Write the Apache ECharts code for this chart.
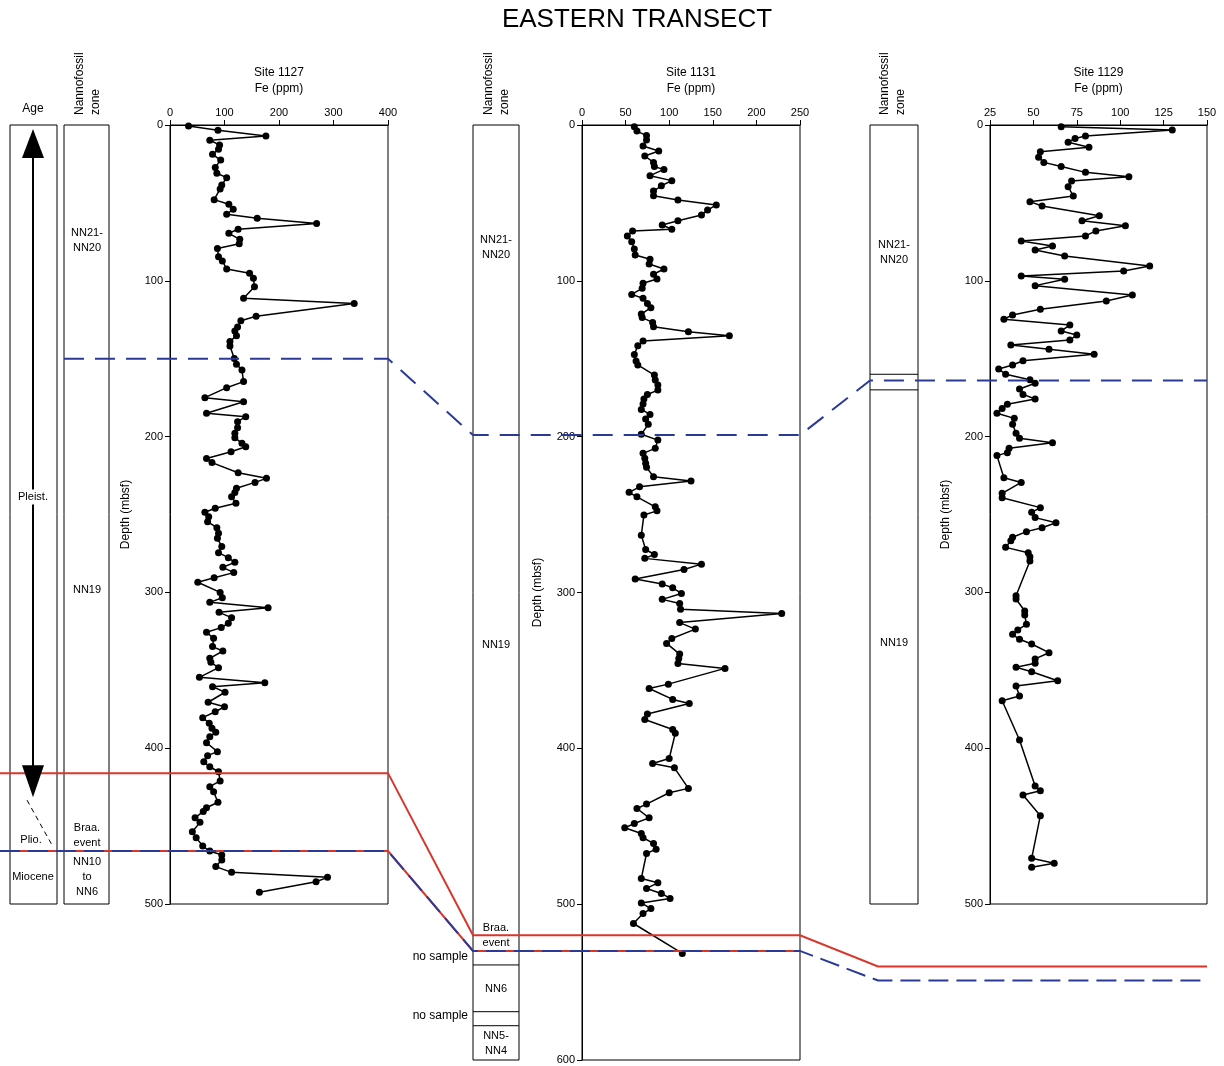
<!DOCTYPE html>
<html><head><meta charset="utf-8">
<script src="https://cdn.jsdelivr.net/npm/echarts@6/dist/echarts.min.js"></script>
<style>html,body{margin:0;padding:0;background:#fff}#c{width:1224px;height:1066px}</style>
</head><body><div id="c"></div>
<script>
// ---------- DATA ----------
const fe1127 = [34,88,176,73,91,89,78,93,83,86,104,95,92,81,108,116,104,160,269,125,108,128,127,87,89,96,104,146,153,155,135,338,158,130,124,119,122,110,110,118,122,132,135,104,64,135,67,139,124,124,119,119,132,139,112,67,77,125,177,156,122,119,113,121,83,64,71,69,86,89,87,95,89,107,119,97,117,81,51,92,96,73,180,90,113,107,94,67,80,78,97,73,75,89,54,174,78,101,70,100,83,60,72,77,84,73,67,87,69,62,73,89,92,73,80,88,67,61,46,55,41,48,60,73,95,95,84,113,289,268,164];
const depth1127 = [0.6,3.4,7.1,9.8,12.8,15.6,18.8,22.5,27.2,31,33.8,38.5,41,47.9,50.9,54.1,57.3,59.9,63.3,66.9,69.5,73.4,76.2,79.2,84.5,87.3,92.4,95.2,98.4,103.8,111.2,114.5,122.8,125.6,129.7,132.2,135.2,139,141.8,149.8,153.6,157.3,164.7,168.6,175,177.6,185,187.2,190.4,194.3,197.9,200.7,204.3,206.5,209.7,214,216.7,223.2,226.8,229.4,233.2,235.8,238.6,242.8,246,248.6,251.5,254.6,258.5,262,265.3,270.6,274.5,277.7,280.7,283.9,287.3,290.6,293.5,300,303.4,306.4,309.8,312.8,316.2,319.8,322.6,325.6,329.5,334.8,337.6,342.3,344.9,348.3,354.5,358,360.5,364.1,370.5,373.4,376.6,380.4,384,387.2,389.8,392.6,396.5,402.2,404.8,408.7,411.9,415.1,421,424.7,427.9,434.7,438.2,440.7,444.6,447.6,453.6,457.4,462.8,466,468.6,471.8,476,479.7,482.9,485.7,492.5];

const fe1131 = [60,63,74,74,70,88,72,82,83,94,78,103,91,82,82,110,154,144,137,110,92,103,58,52,57,60,61,78,77,94,82,86,70,69,57,70,75,79,68,69,81,82,122,169,70,64,60,62,64,83,84,87,87,75,71,70,68,78,73,76,68,87,84,70,72,73,74,82,125,66,54,63,84,86,71,68,73,83,72,137,117,61,92,104,114,92,112,113,229,112,130,103,97,112,111,110,164,99,77,104,123,75,72,104,107,100,81,106,122,100,74,63,77,60,49,68,70,82,85,74,68,87,74,91,101,68,79,70,59,115];
const depth1131 = [1.1,3.9,6.8,9.6,13.5,16.7,19.9,24,26.7,28.5,32.5,35.7,39,42.4,45.4,48.1,51.3,54.6,57.8,61.4,64.2,66.9,68,71.2,74.9,79.6,83.4,86.2,89.2,92.4,95.8,98.8,101.6,104.8,108.7,111.2,114.5,117.2,121.3,123.6,126.7,129.4,132.7,135.2,138.6,141.6,147.2,151.5,154,160.5,163.7,166.9,170.1,172.9,175.9,179.1,182.5,185.7,188.7,192.1,198.5,202.2,207.5,210.7,213.9,217.1,219.7,225.7,228.5,232.2,235.7,238.6,245,247.6,250.3,263.2,272.4,275.6,278.1,281.8,285.2,291.4,294.6,297,300.6,304.4,307,310.7,313.4,319.3,323.5,329.5,332.7,339.5,342.3,345.5,348.7,358.8,361.6,368.6,371.2,378,381.5,387.9,390.4,406.5,409.7,412.5,425.7,428.5,435.8,438.6,444.6,448.2,451,454.6,457.4,461,464.7,467.5,483.5,486.3,489.9,493.1,496.3,499.2,502.8,506,512.4,531.6];

const fe1129 = [66,130,80,74,70,82,54,53,56,66,80,105,72,70,73,48,55,88,78,103,86,80,43,61,51,68,117,102,43,68,51,107,92,54,38,33,71,66,75,71,37,59,85,44,38,30,34,48,51,42,44,51,35,32,29,39,38,40,42,61,36,35,29,33,43,32,32,54,49,51,63,55,46,38,37,34,47,48,48,40,40,45,45,46,41,38,42,49,59,51,51,40,49,64,40,42,32,42,51,54,44,54,49,62,49];
const depth1129 = [1.1,3.2,7.1,8.6,11.1,14.3,17.1,20.7,24,26.7,30.4,33.2,35.9,39.6,45.6,49.2,52,58.2,61.4,64.6,68,71.2,74.5,77.7,80.2,84.1,90.5,93.7,96.9,99,103.1,109.1,113,118.3,121.9,124.7,128.4,132.2,134.8,138,141.2,144,147.2,151.3,154,156.6,160,163.5,165.8,169.4,172.9,175.9,179.3,181.9,185,188.3,192.1,197.9,201.1,203.9,207.5,210.3,212.2,226.4,229.4,236.4,239.2,245.6,248.6,252,255.3,258.5,261,264.6,266.8,271.1,274.5,277.1,279.8,302.1,304.2,311.9,314.5,320.5,324.1,326.9,330.1,333.1,338.7,342.7,345.5,348.1,350.9,356.7,360.1,366.5,369.5,394.7,424.3,427.3,430,443.3,470.7,473.9,476.4];

// Boundary depths (mbsf)
const site1127Bounds = {nn20: 150, pleistPlio: 416, plioMio: 466};
const site1131Bounds = {nn20: 199, braa: 520, base: 530, noSample1: 539, nn6Base: 569, noSample2: 578};
const site1129Bounds = {zoneTop: 160, nn20: 164, zoneBot: 170, braa: 540, base: 549};

const siteNames = ['Site 1127', 'Site 1131', 'Site 1129'];

// ---------- CHART ----------
const FONT = 'Liberation Sans, Arial, Helvetica, sans-serif';
const chart = echarts.init(document.getElementById('c'));
const pair = (xs, ys) => xs.map((v, i) => [v, ys[i]]);

function xCfg(gi, min, max, interval, name) {
  return {type:'value', gridIndex:gi, position:'top', min, max, interval,
    name, nameLocation:'middle', nameGap:28,
    nameTextStyle:{fontSize:12, color:'#000', fontFamily:FONT, lineHeight:16},
    axisLine:{show:true, onZero:false, lineStyle:{color:'#000', width:1}},
    axisTick:{show:true, length:5, lineStyle:{color:'#000'}},
    axisLabel:{color:'#000', fontSize:11, fontFamily:FONT, margin:7},
    splitLine:{show:false}};
}
function yCfg(gi, min, max, interval) {
  return {type:'value', gridIndex:gi, inverse:true, min, max, interval,
    name:'Depth (mbsf)', nameLocation:'middle', nameGap:38,
    nameTextStyle:{fontSize:12, color:'#000', fontFamily:FONT},
    axisLine:{show:true, onZero:false, lineStyle:{color:'#000', width:1}},
    axisTick:{show:true, length:5, lineStyle:{color:'#000'}},
    axisLabel:{color:'#000', fontSize:11, fontFamily:FONT, margin:7},
    splitLine:{show:false}};
}
function ser(gi, data) {
  return {type:'line', xAxisIndex:gi, yAxisIndex:gi, data, symbol:'circle', symbolSize:7,
    showSymbol:true, itemStyle:{color:'#000'}, lineStyle:{color:'#000', width:1.5}, z:5};
}
const gridStyle = {show:true, borderColor:'#000', borderWidth:1, backgroundColor:'transparent'};

chart.setOption({
  animation:false,
  backgroundColor:'#fff',
  title:{text:'EASTERN TRANSECT', left:632, top:2, textAlign:'center',
    textStyle:{fontSize:26, fontWeight:'normal', color:'#000', fontFamily:FONT}},
  grid:[
    Object.assign({left:170, top:125, width:218, height:779}, gridStyle),
    Object.assign({left:582, top:125, width:218, height:935}, gridStyle),
    Object.assign({left:990, top:125, width:217, height:779}, gridStyle)
  ],
  xAxis:[xCfg(0,0,400,100, siteNames[0]+'\nFe (ppm)'), xCfg(1,0,250,50, siteNames[1]+'\nFe (ppm)'), xCfg(2,25,150,25, siteNames[2]+'\nFe (ppm)')],
  yAxis:[yCfg(0,0,500,100), yCfg(1,0,600,100), yCfg(2,0,500,100)],
  series:[ser(0, pair(fe1127, depth1127)), ser(1, pair(fe1131, depth1131)), ser(2, pair(fe1129, depth1129))]
});

// ---------- ANNOTATIONS (positions through axis scales) ----------
const yOf = (i, d) => chart.convertToPixel({yAxisIndex:i}, d);
const RED = '#d8362b', BLUE = '#2b3a97';
const g = [];
const poly = (pts, style, z) => g.push({type:'polyline', shape:{points:pts}, style:Object.assign({fill:null}, style), z:z||20, silent:true});
const rect = (x, y0, x1, y1) => g.push({type:'rect', shape:{x:x, y:y0, width:x1-x, height:y1-y0}, style:{fill:null, stroke:'#000', lineWidth:1}, z:15, silent:true});
const txt = (s, x, y, opts) => g.push(Object.assign({type:'text', x:x, y:y, z:25, silent:true,
  style:{text:s, fill:'#000', font:'11px ' + FONT, align:'center', verticalAlign:'middle', textAlign:'center', textVerticalAlign:'middle', lineHeight:15}}, opts||{}));

const top1 = yOf(0, 0), bot1 = yOf(0, 500);
const top2 = yOf(1, 0), bot2 = yOf(1, 600);
const top3 = yOf(2, 0), bot3 = yOf(2, 500);
const P1R = 388, C2L = 473, C2R = 519, P2R = 800, C3L = 870, C3R = 918, P3R = 1207;

// columns
rect(10, top1, 57, bot1);      // Age
rect(64, top1, 109, bot1);     // zone 1127
rect(C2L, top2, C2R, bot2);    // zone 1131
rect(C3L, top3, C3R, bot3);    // zone 1129

// black zone boundaries
[site1131Bounds.noSample1, site1131Bounds.nn6Base, site1131Bounds.noSample2].forEach(d => poly([[C2L, yOf(1,d)], [C2R, yOf(1,d)]], {stroke:'#000', lineWidth:1}, 16));
[site1129Bounds.zoneTop, site1129Bounds.zoneBot].forEach(d => poly([[C3L, yOf(2,d)], [C3R, yOf(2,d)]], {stroke:'#000', lineWidth:1}, 16));

// correlation lines
const yb1 = yOf(0, site1127Bounds.nn20), yb2 = yOf(1, site1131Bounds.nn20), yb3 = yOf(2, site1129Bounds.nn20);
poly([[64, yb1], [P1R, yb1], [C2L, yb2], [P2R, yb2], [C3L, yb3], [P3R, yb3]], {stroke:BLUE, lineWidth:2, lineDash:[20, 11]}, 22);

const yr1 = yOf(0, site1127Bounds.pleistPlio), yr2 = yOf(1, site1131Bounds.braa), yr3 = yOf(1, site1129Bounds.braa);
poly([[0, yr1], [P1R, yr1], [C2L, yr2], [P2R, yr2], [878, yr3], [P3R, yr3]], {stroke:RED, lineWidth:2}, 22);

const yl1 = yOf(0, site1127Bounds.plioMio), yl2 = yOf(1, site1131Bounds.base), yl3 = yOf(1, site1129Bounds.base);
poly([[0, yl1], [P1R, yl1], [C2L, yl2], [P2R, yl2]], {stroke:RED, lineWidth:2}, 22);
poly([[0, yl1], [P1R, yl1], [C2L, yl2], [P2R, yl2], [878, yl3], [P3R, yl3]], {stroke:BLUE, lineWidth:2, lineDash:[20, 8]}, 23);

// Age column content
g.push({type:'polygon', shape:{points:[[33, top1+4], [22, top1+33], [44, top1+33]]}, style:{fill:'#000'}, z:24, silent:true});
g.push({type:'polygon', shape:{points:[[33, yr1+24], [22, yr1-8], [44, yr1-8]]}, style:{fill:'#000'}, z:24, silent:true});
poly([[33, top1+30], [33, yr1]], {stroke:'#000', lineWidth:2}, 24);
poly([[27, yr1+27], [52, yl1-6]], {stroke:'#000', lineWidth:1, lineDash:[5, 4]}, 24);
txt('Pleist.', 33, 497, {style:{text:'Pleist.', fill:'#000', font:'11px ' + FONT, align:'center', verticalAlign:'middle', textAlign:'center', textVerticalAlign:'middle', backgroundColor:'#fff', padding:[2,1]}});
txt('Plio.', 31, 840);
txt('Miocene', 33, 877);

// headers
txt('Age', 33, 109, {style:{text:'Age', fill:'#000', font:'12px ' + FONT, align:'center', verticalAlign:'middle', textAlign:'center', textVerticalAlign:'middle'}});
function rotHeader(cx) {
  ['Nannofossil', 'zone'].forEach((s, i) => g.push({type:'text', x:cx - 8 + i*16, y:115, rotation:Math.PI/2, z:25, silent:true,
    style:{text:s, fill:'#000', font:'12px ' + FONT, align:'left', verticalAlign:'middle', textAlign:'left', textVerticalAlign:'middle'}}));
}
rotHeader(88); rotHeader(497); rotHeader(893);

// zone labels
txt('NN21-\nNN20', 87, 240); txt('NN19', 87, 590); txt('Braa.\nevent', 87, 835); txt('NN10\nto\nNN6', 87, 877);
txt('NN21-\nNN20', 496, 247); txt('NN19', 496, 645); txt('Braa.\nevent', 496, 935); txt('NN6', 496, 989); txt('NN5-\nNN4', 496, 1043);
txt('NN21-\nNN20', 894, 252); txt('NN19', 894, 643);
txt('no sample', 468, 957, {style:{text:'no sample', fill:'#000', font:'12px ' + FONT, align:'right', verticalAlign:'middle', textAlign:'right', textVerticalAlign:'middle'}});
txt('no sample', 468, 1016, {style:{text:'no sample', fill:'#000', font:'12px ' + FONT, align:'right', verticalAlign:'middle', textAlign:'right', textVerticalAlign:'middle'}});

chart.setOption({graphic:g});
</script>
</body></html>
